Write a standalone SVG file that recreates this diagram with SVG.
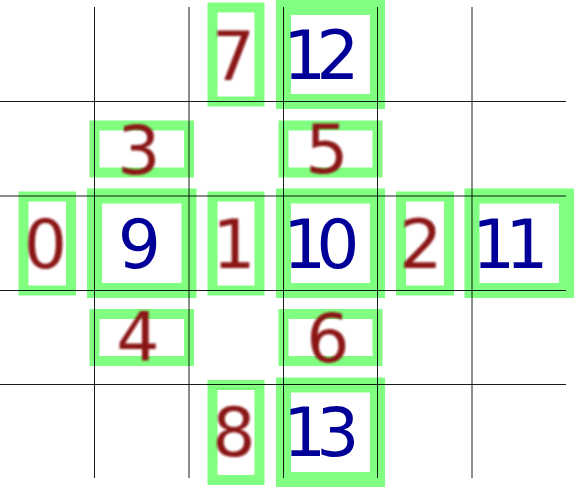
<svg xmlns="http://www.w3.org/2000/svg" width="574" height="487" viewBox="0 0 574 487">
<style>
.box{fill:#fff;stroke:#80ff80}
.thin{stroke-width:10}
.thick{stroke-width:15}
.grid line{stroke:#000;stroke-width:0.9}
.r{font-family:"DejaVu Sans",sans-serif;font-size:68px;fill:#8b1414;text-anchor:middle;filter:url(#blur)}
.b{font-family:"DejaVu Sans",sans-serif;font-size:68px;fill:#000099}
.bm{text-anchor:middle}
.bs{letter-spacing:-10px}
</style>
<defs>
<filter id="blur" x="-20%" y="-20%" width="140%" height="140%"><feGaussianBlur stdDeviation="0.9"/></filter>
</defs>
<rect width="574" height="487" fill="#fff"/>
<g id="boxes">
<rect class="box thin" x="212.5" y="7.5" width="47" height="94"/>
<rect class="box thick" x="283.5" y="7.5" width="94" height="94"/>
<rect class="box thin" x="94.5" y="125.5" width="94.5" height="47"/>
<rect class="box thin" x="283.5" y="125.5" width="94" height="47"/>
<rect class="box thin" x="23.5" y="196.5" width="47.5" height="94"/>
<rect class="box thick" x="94.5" y="196" width="94.5" height="94.5"/>
<rect class="box thin" x="212.5" y="196.5" width="47" height="94"/>
<rect class="box thick" x="283.5" y="196" width="94" height="94.5"/>
<rect class="box thin" x="401" y="196.5" width="48" height="94"/>
<rect class="box thick" x="472" y="196" width="94.5" height="94.5"/>
<rect class="box thin" x="94.5" y="314" width="94.5" height="47"/>
<rect class="box thin" x="283.5" y="314" width="94" height="47"/>
<rect class="box thin" x="212.5" y="385" width="47" height="95"/>
<rect class="box thick" x="283.5" y="385" width="94" height="94.5"/>
</g>
<g id="connectors" class="grid">
<line x1="94.5" y1="7" x2="94.5" y2="478"/>
<line x1="189" y1="7" x2="189" y2="478"/>
<line x1="283.5" y1="7" x2="283.5" y2="478"/>
<line x1="377.5" y1="7" x2="377.5" y2="478"/>
<line x1="472" y1="7" x2="472" y2="478"/>
<line x1="0" y1="101.5" x2="566" y2="101.5"/>
<line x1="0" y1="196" x2="566" y2="196"/>
<line x1="0" y1="290.5" x2="566" y2="290.5"/>
<line x1="0" y1="384.5" x2="566" y2="384.5"/>
</g>
<g id="n7"><text class="r" x="233.5" y="80">7</text></g>
<g id="n12"><text class="b bs" x="283" y="79">12</text></g>
<g id="n3"><text class="r" x="139" y="174">3</text></g>
<g id="n5"><text class="r" x="327" y="173">5</text></g>
<g id="n0"><text class="r" x="45.5" y="268">0</text></g>
<g id="n9"><text class="b bm" x="139.5" y="268">9</text></g>
<g id="n1"><text class="r" x="234" y="268">1</text></g>
<g id="n10"><text class="b bs" x="283" y="268">10</text></g>
<g id="n2"><text class="r" x="421" y="268">2</text></g>
<g id="n11"><text class="b bs" x="472" y="268">11</text></g>
<g id="n4"><text class="r" x="138" y="361">4</text></g>
<g id="n6"><text class="r" x="328" y="362">6</text></g>
<g id="n8"><text class="r" x="234" y="456">8</text></g>
<g id="n13"><text class="b bs" x="283" y="456">13</text></g>
</svg>
